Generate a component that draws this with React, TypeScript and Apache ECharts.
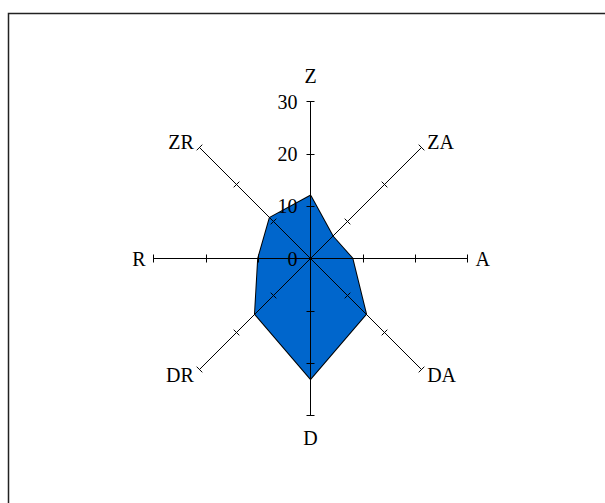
import React, { useEffect, useRef } from "react";
import * as echarts from "echarts";

const indicators = ["Z", "ZR", "R", "DR", "D", "DA", "A", "ZA"];
const values = [12, 11, 10, 15, 23, 15, 8, 6];
const axisMax = 30;
const tickStep = 10;

const FONT = "Liberation Serif";
const FS = 20;

export default function App() {
  const ref = useRef<HTMLDivElement>(null);
  useEffect(() => {
    document.body.style.margin = "0";
    const chart = echarts.init(ref.current!, null, { renderer: "svg" });
    const cx = 310.5;
    const cy = 258.5;
    const R = 157;
    const ind = indicators.map((n) => ({ name: n, min: 0, max: axisMax }));
    const tickStyle = { color: "#000", width: 1 };
    chart.setOption({
      animation: false,
      backgroundColor: "#fff",
      graphic: [
        {
          type: "rect",
          shape: { x: 8.5, y: 13.5, width: 700, height: 600 },
          style: { fill: "none", stroke: "#222", lineWidth: 1.5 },
          silent: true,
        },
      ],
      radar: [
        {
          indicator: ind,
          center: [cx, cy],
          radius: R,
          startAngle: 90,
          splitNumber: axisMax / tickStep,
          shape: "polygon",
          z: 5,
          nameGap: 8,
          axisName: {
            color: "#000",
            fontFamily: FONT,
            fontSize: FS,
            formatter: (name: string) =>
              name === "Z" ? "{t|Z}" : name === "D" ? "{b|D}" : name,
            rich: {
              t: { color: "#000", fontFamily: FONT, fontSize: FS, padding: [0, 0, 8, 0] },
              b: { color: "#000", fontFamily: FONT, fontSize: FS, padding: [4, 0, 0, 0] },
            },
          },
          axisLine: { show: true, lineStyle: { color: "#000", width: 1 } },
          axisTick: { show: true, length: 4, lineStyle: tickStyle },
          axisLabel: { show: false },
          splitLine: { show: false },
          splitArea: { show: false },
        },
        {
          indicator: ind,
          center: [cx, cy],
          radius: R,
          startAngle: 90,
          splitNumber: axisMax / tickStep,
          shape: "polygon",
          z: 5,
          axisName: { show: false },
          axisLine: { show: false },
          axisTick: { show: true, length: -4, lineStyle: tickStyle },
          axisLabel: { show: false },
          splitLine: { show: false },
          splitArea: { show: false },
        },
      ],
      polar: { center: [cx, cy], radius: R },
      angleAxis: { show: false, startAngle: 90, min: 0, max: 360 },
      radiusAxis: {
        min: 0,
        max: axisMax,
        interval: tickStep,
        axisLine: { show: false },
        axisTick: { show: false },
        splitLine: { show: false },
        axisLabel: { color: "#000", fontFamily: FONT, fontSize: FS, margin: 13 },
        z: 6,
      },
      series: [
        {
          type: "radar",
          radarIndex: 0,
          symbol: "none",
          z: 2,
          lineStyle: { color: "#000", width: 2 },
          areaStyle: { color: "#0066CC", opacity: 1 },
          data: [{ value: values }],
        },
      ],
    });
    return () => chart.dispose();
  }, []);
  return <div ref={ref} style={{ width: 605, height: 503 }} />;
}
